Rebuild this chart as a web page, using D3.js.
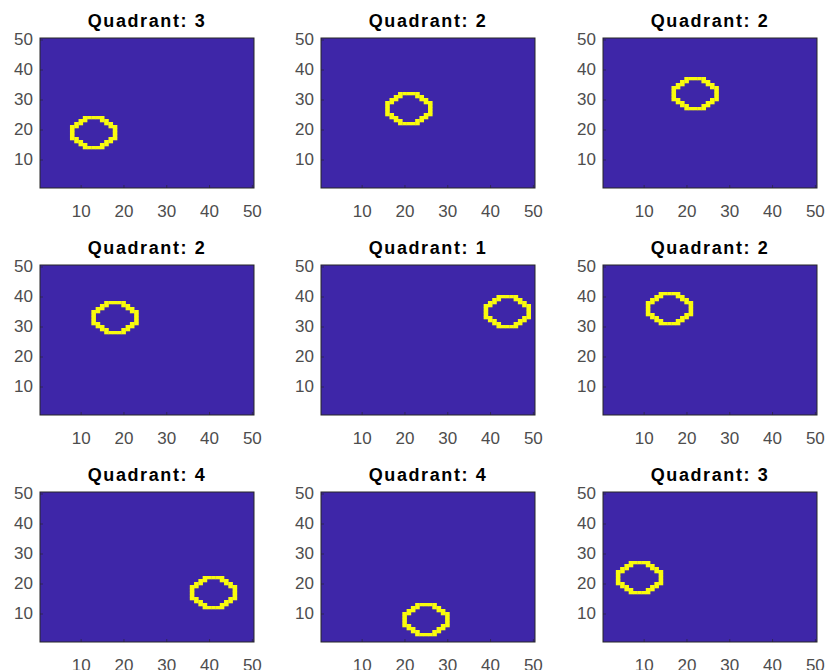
<!DOCTYPE html>
<html>
<head>
<meta charset="utf-8">
<script src="https://cdn.jsdelivr.net/npm/d3@7"></script>
<style>
  body { margin: 0; background: #fff; }
  svg { font-family: "Liberation Sans", Arial, Helvetica, sans-serif; }
</style>
</head>
<body>
<div id="chart"></div>
<script>
// one entry per subplot, row by row
const quadrants = [3, 2, 2, 2, 1, 2, 4, 4, 3];
const centerX   = [13, 21, 22, 18, 44, 16, 41, 25, 9];
const centerY   = [19, 27, 32, 33, 35, 36, 17, 8, 22];
const ringRadius = 5.5;
const gridSize = 50;
const tickValues = [10, 20, 30, 40, 50];

const width = 830, height = 670;
const colLeft = [40, 321, 603];
const rowTop = [38, 265, 492];
const axW = 214, axH = 150;

const bgColor = "#3e26a8";
const ringColor = "#f9fb0e";

const svg = d3.select("#chart").append("svg")
  .attr("width", width)
  .attr("height", height);

const x = d3.scaleLinear().domain([0.5, gridSize + 0.5]).range([0, axW]);
const y = d3.scaleLinear().domain([0.5, gridSize + 0.5]).range([axH, 0]);
const cw = x(1.5) - x(0.5), ch = y(0.5) - y(1.5);

// perimeter cells of a filled disk in the 50x50 image
function ringCells(cx, cy) {
  const inside = (i, j) => Math.hypot(i - cx, j - cy) <= ringRadius;
  const cells = [];
  for (let i = 1; i <= gridSize; i++) {
    for (let j = 1; j <= gridSize; j++) {
      if (!inside(i, j)) continue;
      let edge = false;
      for (let di = -1; di <= 1; di++)
        for (let dj = -1; dj <= 1; dj++)
          if (!inside(i + di, j + dj)) edge = true;
      if (edge) cells.push([i, j]);
    }
  }
  return cells;
}

quadrants.forEach((q, k) => {
  const g = svg.append("g")
    .attr("transform", `translate(${colLeft[k % 3]},${rowTop[Math.floor(k / 3)]})`);

  g.append("rect")
    .attr("width", axW).attr("height", axH)
    .attr("fill", bgColor);

  g.append("g")
    .selectAll("rect")
    .data(ringCells(centerX[k], centerY[k]))
    .join("rect")
      .attr("x", d => x(d[0] - 0.5))
      .attr("y", d => y(d[1] + 0.5))
      .attr("width", cw + 0.3)
      .attr("height", ch + 0.3)
      .attr("fill", ringColor);

  const xAxis = d3.axisBottom(x).tickValues(tickValues).tickSizeInner(-3).tickSizeOuter(0).tickPadding(17);
  const yAxis = d3.axisLeft(y).tickValues(tickValues).tickSizeInner(-3).tickSizeOuter(0).tickPadding(7);

  g.append("g").attr("transform", `translate(0,${axH})`).call(xAxis)
    .call(a => a.select(".domain").remove());
  g.append("g").call(yAxis)
    .call(a => a.select(".domain").remove());

  g.selectAll(".tick line").attr("stroke", "#262626").attr("stroke-width", 0.6);
  g.selectAll(".tick text")
    .attr("fill", "#4d4d4d")
    .attr("font-size", 17)
    .attr("font-family", "Liberation Sans, Arial, sans-serif");

  // box
  g.append("rect")
    .attr("x", 0).attr("y", 0)
    .attr("width", axW).attr("height", axH)
    .attr("fill", "none")
    .attr("stroke", "#262626")
    .attr("stroke-width", 1);

  g.append("text")
    .attr("x", axW / 2)
    .attr("y", -11)
    .attr("text-anchor", "middle")
    .attr("font-size", 18)
    .attr("font-weight", "bold")
    .attr("letter-spacing", 1.6)
    .attr("fill", "#000")
    .text(`Quadrant: ${q}`);
});
</script>
</body>
</html>
